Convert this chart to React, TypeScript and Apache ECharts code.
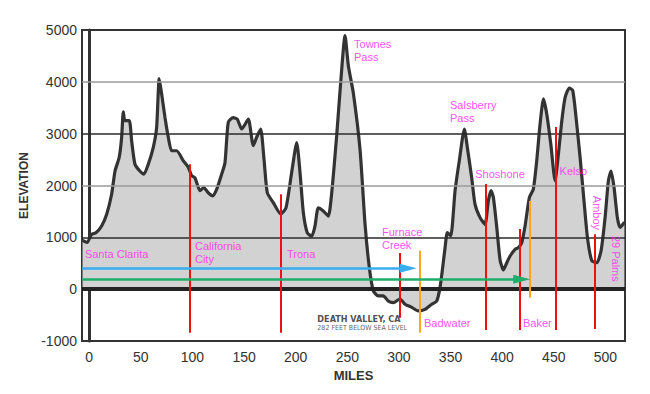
import React, { useEffect, useRef } from "react";
import * as echarts from "echarts";

// Elevation profile (miles, feet)
const profileMiles = [
  -6.5, -2, 2, 6.5, 12, 17, 21.7, 25, 29, 31.4, 33, 34.6, 38.8, 41.1, 44.3, 49, 53, 57.2, 62, 65.3,
  67.8, 70.2, 73.4, 76.6, 79.8, 84.7, 91, 96, 99.2, 102.4, 107.3, 111, 115.3, 119.6, 123.5, 128.3,
  131.5, 134.7, 139.5, 143.4, 147.7, 154.1, 158.9, 162.8, 166.1, 169.3, 172.5, 178.3, 185.5, 190.6,
  196.1, 201, 204.2, 207.4, 211.2, 215.5, 218.7, 221.9, 226.7, 231.6, 234.9, 239.7, 243.6, 247.8,
  251, 255.8, 262.3, 267.2, 271.3, 275.2, 280, 284.9, 289.7, 294.6, 301, 305.9, 312.4, 318.8, 325.3,
  331.8, 336.6, 339.8, 342.4, 344.7, 346.9, 350.2, 354.4, 358.5, 363.4, 366.3, 370.5, 373.7, 378.6,
  383.4, 386.6, 389.2, 391.5, 394.8, 398, 401.2, 404.5, 407.7, 412.5, 415.7, 419, 422.2, 426.4, 430.2,
  433.5, 436.7, 440, 443.2, 447.1, 451.3, 454.5, 457.8, 461, 465.1, 468.4, 471.6, 475.5, 479.3, 482.6,
  486.8, 491.7, 495.8, 499.7, 502.9, 505.5, 508.4, 511.6, 514.2, 518.4,
];
const profileElev = [
  940, 900, 1050, 1090, 1220, 1450, 1830, 2280, 2540, 2930, 3420, 3250, 3250, 2860, 2410, 2280, 2220, 2410, 2730, 3120,
  4060, 3760, 3310, 2930, 2670, 2670, 2480, 2350, 2190, 2150, 1900, 1960, 1860, 1800, 1930, 2220,
  2440, 3220, 3310, 3280, 3090, 3280, 2770, 2960, 3090, 2510, 1860, 1670, 1450, 1570,
  2250, 2830, 2250, 1480, 1090, 1020, 1220, 1570, 1510, 1410, 1860, 2960, 3990, 4890,
  4310, 3790, 2700, 1250, 420, -30, -130, -130, -230, -260, -190, -290, -350, -420, -390,
  -290, -230, 30, 420, 800, 1090, 1030, 1900, 2480, 3090, 2730, 2150, 1640, 1380,
  1250, 1700, 1900, 1770, 1190, 560, 370, 510, 640, 770, 800, 900, 1220, 1770, 1930,
  2480, 3180, 3670, 3380, 2800, 2090, 2610, 3250, 3700, 3880, 3830, 3310, 2540, 1700, 1000,
  550, 510, 740, 1380, 2090, 2280, 1960, 1380, 1190, 1290,
];

// Place labels
const placeNames = ["Santa Clarita", "California\nCity", "Trona", "Furnace\nCreek", "Badwater", "Baker", "Shoshone", "Kelso", "Salsberry\nPass", "Townes\nPass"];
const placeMiles = [-4.2, 102.4, 191.6, 283.6, 324.3, 420.2, 373.9, 455.6, 349.5, 256.5];
const placeElev = [680, 710, 680, 980, -650, -650, 2225, 2280, 3420, 4610];

const verticalNames = ["Amboy", "29 Palms"];
const verticalMiles = [491.7, 510.4];
const verticalElev = [1470, 585];

// Marker lines
const markerMiles = [97.6, 185.8, 300.4, 384.1, 417.4, 452.2, 490, 320, 427];
const markerTop = [2410, 1830, 700, 2030, 1160, 3130, 1060, 740, 1700];
const markerBottom = [-840, -840, -550, -790, -790, -790, -770, -840, -160];
const markerKind = ["red", "red", "red", "red", "red", "red", "red", "orange", "orange"];

// Arrows
const arrowElev = [405, 193];
const arrowStart = [-7, -7];
const arrowEnd = [309, 419];
const arrowKind = ["blue", "green"];

// Grid lines
const gridValues = [1000, 2000, 3000, 4000];
const gridKind = ["dark", "light", "dark", "light"];

const colors: Record<string, string> = {
  red: "#f01010",
  orange: "#ffa51e",
  blue: "#38aef0",
  green: "#1fad6c",
  dark: "#2a2a2a",
  light: "#9a9a9a",
};

export default function App() {
  const ref = useRef<HTMLDivElement>(null);
  useEffect(() => {
    document.body.style.margin = "0";
    const chart = echarts.init(ref.current!, undefined, { renderer: "svg" });
    const profile = profileMiles.map((m, i) => [m, profileElev[i]]);
    const labelFont = "Arial, 'Liberation Sans', Helvetica, sans-serif";

    const option: any = {
      animation: false,
      backgroundColor: "#ffffff",
      grid: {
        left: 82,
        right: 25,
        top: 30,
        bottom: 53,
        show: true,
        borderColor: "#333",
        borderWidth: 2,
        backgroundColor: "transparent",
      },
      xAxis: {
        type: "value",
        min: -7,
        max: 519,
        splitNumber: 10,
        name: "MILES",
        nameLocation: "middle",
        nameGap: 21,
        nameTextStyle: { fontSize: 13, fontWeight: "bold", color: "#333", fontFamily: labelFont },
        axisLine: { show: false },
        axisTick: { show: false },
        splitLine: { show: false },
        axisLabel: {
          fontSize: 14,
          color: "#333",
          margin: 9,
          fontFamily: labelFont,
          showMinLabel: false,
          showMaxLabel: false,
          formatter: (v: number) => (v % 50 === 0 && v >= 0 && v <= 500 ? String(v) : ""),
        },
      },
      yAxis: {
        type: "value",
        min: -1000,
        max: 5000,
        interval: 1000,
        name: "ELEVATION",
        nameLocation: "middle",
        nameGap: 46,
        nameRotate: 90,
        nameTextStyle: { fontSize: 12, fontWeight: "bold", color: "#333", fontFamily: labelFont },
        axisLine: { show: true, lineStyle: { color: "#333", width: 3 } },
        axisTick: { show: false },
        splitLine: { show: false },
        axisLabel: {
          fontSize: 14,
          color: "#333",
          margin: 5,
          fontFamily: labelFont,
          formatter: (v: number) => String(v),
        },
      },
      series: [
        {
          type: "line",
          data: profile,
          smooth: 0.2,
          symbol: "none",
          lineStyle: { width: 0 },
          areaStyle: { color: "#d2d2d2", opacity: 1 },
          z: 1,
          silent: true,
        },
        {
          type: "line",
          data: [],
          z: 3,
          silent: true,
          markLine: {
            silent: true,
            symbol: "none",
            label: { show: false },
            data: [
              ...gridValues.map((v, i) => ({ yAxis: v, lineStyle: { color: colors[gridKind[i]], width: 1.5, type: "solid" } })),
              { yAxis: 0, lineStyle: { color: "#222", width: 4, type: "solid" } },
            ],
          },
        },
        {
          type: "line",
          data: profile,
          smooth: 0.2,
          symbol: "none",
          lineStyle: { color: "#333", width: 3.2 },
          z: 4,
          silent: true,
        },
        {
          type: "line",
          data: [],
          z: 5,
          silent: true,
          markLine: {
            silent: true,
            symbol: "none",
            label: { show: false },
            data: markerMiles.map((m, i) => [
              { coord: [m, markerTop[i]], lineStyle: { color: colors[markerKind[i]], width: 2, type: "solid" } },
              { coord: [m, markerBottom[i]] },
            ]),
          },
        },
        {
          type: "line",
          data: [],
          z: 5,
          silent: true,
          markLine: {
            silent: true,
            symbol: ["none", "triangle"],
            symbolSize: [9, 17],
            label: { show: false },
            data: arrowElev.map((e, i) => [
              { coord: [arrowStart[i], e], lineStyle: { color: colors[arrowKind[i]], width: 2.5, type: "solid" }, itemStyle: { color: colors[arrowKind[i]] } },
              { coord: [arrowEnd[i], e] },
            ]),
          },
        },
        {
          type: "scatter",
          symbolSize: 0,
          z: 6,
          silent: true,
          data: placeNames.map((n, i) => ({ name: n, value: [placeMiles[i], placeElev[i]] })),
          label: {
            show: true,
            position: [0, 0],
            align: "left",
            verticalAlign: "middle",
            formatter: (p: any) => p.name,
            color: "#ff22ee",
            fontSize: 11,
            lineHeight: 13,
            fontFamily: labelFont,
          },
        },
        {
          type: "scatter",
          symbolSize: 0,
          z: 6,
          silent: true,
          data: verticalNames.map((n, i) => ({ name: n, value: [verticalMiles[i], verticalElev[i]] })),
          label: {
            show: true,
            position: [0, 0],
            align: "center",
            verticalAlign: "middle",
            rotate: -90,
            formatter: (p: any) => p.name,
            color: "#ff22ee",
            fontSize: 11,
            fontFamily: labelFont,
          },
        },
        {
          type: "scatter",
          symbolSize: 0,
          z: 6,
          silent: true,
          data: [
            {
              name: "DEATH VALLEY, CA",
              value: [221, -567],
              label: { fontSize: 9, fontWeight: "bold", color: "#222" },
            },
            {
              name: "282 FEET BELOW SEA LEVEL",
              value: [221, -741],
              label: { fontSize: 7, color: "#333" },
            },
          ],
          label: {
            show: true,
            position: [0, 0],
            align: "left",
            verticalAlign: "middle",
            formatter: (p: any) => p.name,
            fontFamily: "'Liberation Sans Narrow', 'Arial Narrow', 'DejaVu Sans Condensed', sans-serif",
          },
        },
      ],
    };
    chart.setOption(option);
    return () => chart.dispose();
  }, []);
  return <div ref={ref} style={{ width: 650, height: 394 }} />;
}
